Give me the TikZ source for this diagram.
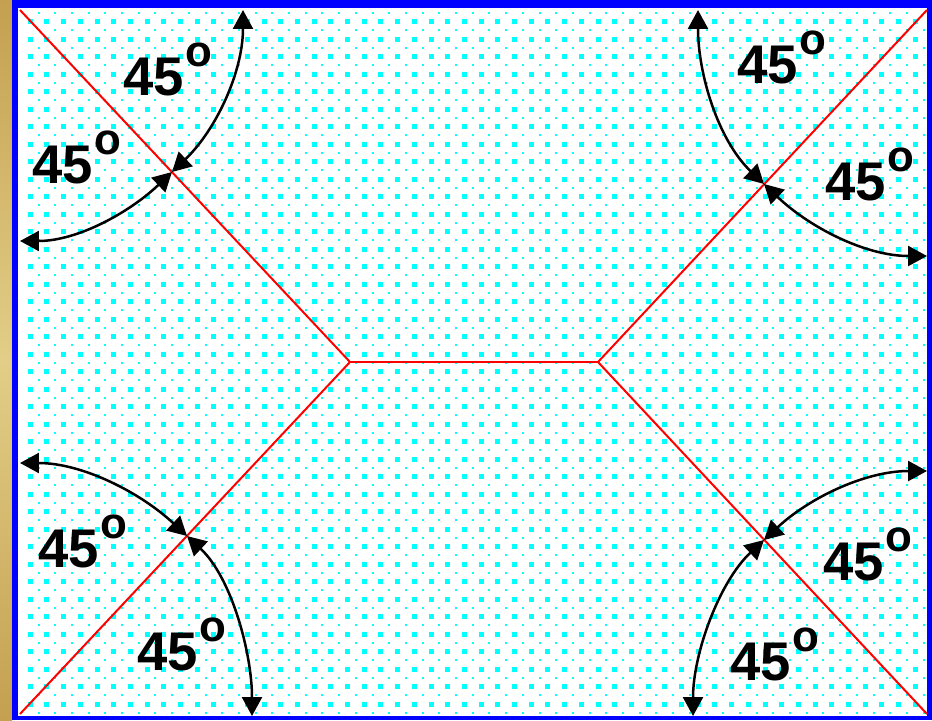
\documentclass[tikz,border=0pt]{standalone}
\usepackage{fontspec}
\setmainfont{Liberation Sans}
\usepackage{tikz}
\usetikzlibrary{arrows.meta}
\definecolor{frameblue}{HTML}{0000FF}
\definecolor{dotcyan}{HTML}{00FFFF}
\definecolor{cutred}{HTML}{FF0000}
\definecolor{goldlight}{HTML}{E2CE88}
\definecolor{golddark}{HTML}{C4A050}

\begin{document}
\begin{tikzpicture}[x=0.02cm, y=-0.02cm,
    cut/.style={draw=cutred, line width=0.04cm},
    sweep/.style={{Triangle[length=0.38cm, width=0.4cm]}-{Triangle[length=0.38cm, width=0.4cm]}, line width=0.05cm, draw=black},
    deg/.style={font=\bfseries\fontsize{31}{31}\selectfont, anchor=base west, inner sep=0pt}]
    \useasboundingbox (0,0) rectangle (932,720);
    \fill[top color=golddark, bottom color=golddark, middle color=goldlight] (0,0) rectangle (12,720);
    \fill[frameblue] (12,0) rectangle (932,720);
    \fill[white] (18,8) rectangle (927,716);
    \begin{scope}
      \clip (18,8) rectangle (927,716);
      \foreach \i in {0,...,54} \foreach \j in {0,...,41} {
        \fill[dotcyan] (27.7+16.7*\i, 19.2+17.5*\j) rectangle ++(5,5);
        \fill[dotcyan] (37.55+16.7*\i, 11.95+17.5*\j) rectangle ++(2,2);
      }
    \end{scope}
    \coordinate (tl) at (20,10);
    \coordinate (tr) at (927,10);
    \coordinate (bl) at (20,714);
    \coordinate (br) at (927,714);
    \coordinate (hl) at (350,362);
    \coordinate (hr) at (598,362);
    \draw[cut] (tl) -- (hl) -- (bl);
    \draw[cut] (hl) -- (hr);
    \draw[cut] (tr) -- (hr) -- (br);
    \coordinate (xtl) at (172,172);
    \coordinate (xtr) at (764,184);
    \coordinate (xbl) at (187,536);
    \coordinate (xbr) at (764,540);
    \coordinate (tlu) at (243,10);
    \coordinate (tll) at (20,241);
    \coordinate (tru) at (698,10);
    \coordinate (trr) at (927,256);
    \coordinate (bll) at (20,463);
    \coordinate (bld) at (252,716);
    \coordinate (brr) at (927,471);
    \coordinate (brd) at (693,716);
    \draw[sweep] (tlu) .. controls +(0,62) and +(44,-42) .. (xtl);
    \draw[sweep] (tll) .. controls +(58,0) and +(-42,40) .. (xtl);
    \draw[sweep] (tru) .. controls +(0,64) and +(-46,-44) .. (xtr);
    \draw[sweep] (trr) .. controls +(-62,0) and +(45,43) .. (xtr);
    \draw[sweep] (bll) .. controls +(63,0) and +(-46,-43) .. (xbl);
    \draw[sweep] (bld) .. controls +(0,-62) and +(45,42) .. (xbl);
    \draw[sweep] (brr) .. controls +(-62,0) and +(45,-42) .. (xbr);
    \draw[sweep] (brd) .. controls +(0,-62) and +(-45,42) .. (xbr);
    \node[deg] (tlup) at (123,95) {45\kern1pt\raisebox{0.52em}{\fontsize{25}{25}\selectfont o}};
    \node[deg] (tlleft) at (32,183) {45\kern1pt\raisebox{0.52em}{\fontsize{25}{25}\selectfont o}};
    \node[deg] (trup) at (737,83) {45\kern1pt\raisebox{0.52em}{\fontsize{25}{25}\selectfont o}};
    \node[deg] (trright) at (825,200) {45\kern1pt\raisebox{0.52em}{\fontsize{25}{25}\selectfont o}};
    \node[deg] (blleft) at (38,567) {45\kern1pt\raisebox{0.52em}{\fontsize{25}{25}\selectfont o}};
    \node[deg] (bldown) at (137,670) {45\kern1pt\raisebox{0.52em}{\fontsize{25}{25}\selectfont o}};
    \node[deg] (brright) at (823,580) {45\kern1pt\raisebox{0.52em}{\fontsize{25}{25}\selectfont o}};
    \node[deg] (brdown) at (730,680) {45\kern1pt\raisebox{0.52em}{\fontsize{25}{25}\selectfont o}};
\end{tikzpicture}
\end{document}
